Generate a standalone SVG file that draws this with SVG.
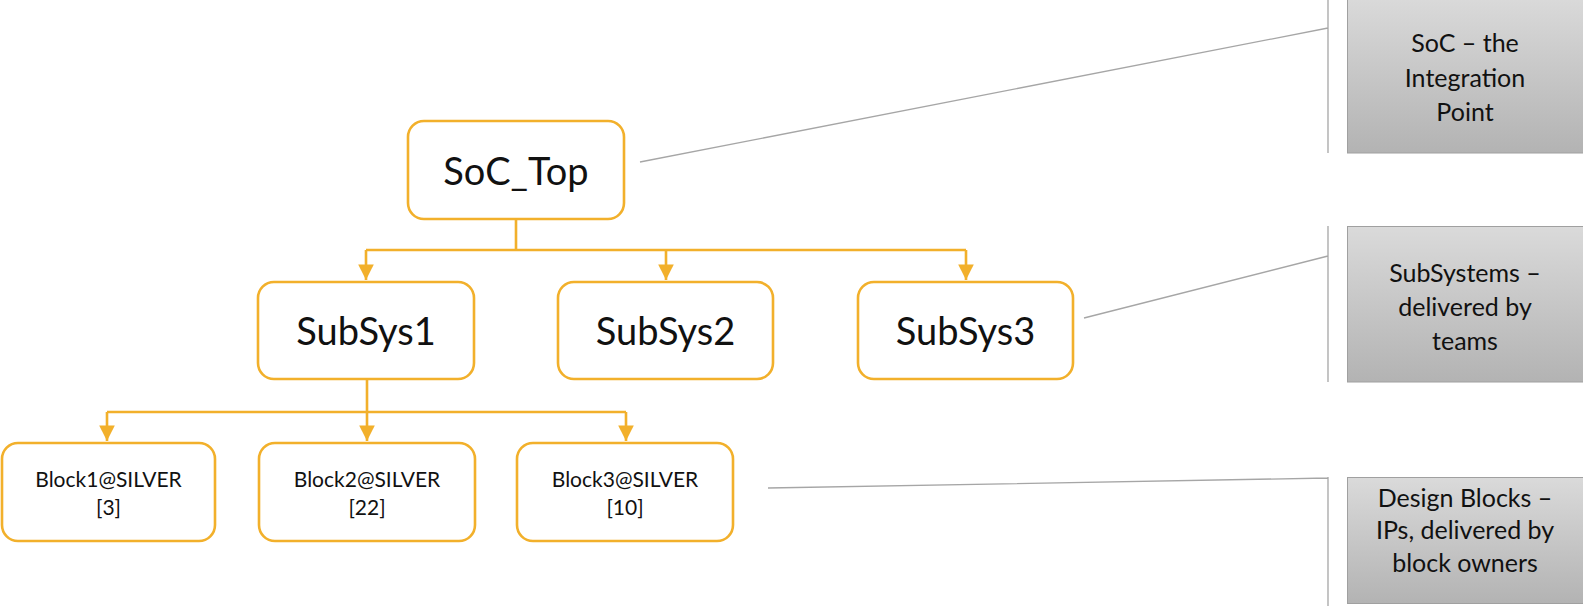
<svg xmlns="http://www.w3.org/2000/svg" width="1583" height="606" viewBox="0 0 1583 606">
  <defs>
    <linearGradient id="gray" x1="0" y1="0" x2="0" y2="1">
      <stop offset="0" stop-color="#dadada"/>
      <stop offset="1" stop-color="#b3b3b3"/>
    </linearGradient>
    <marker id="arr" viewBox="0 0 10 10" refX="10" refY="5" markerWidth="6" markerHeight="6" markerUnits="strokeWidth" orient="auto">
      <path d="M0,0 L10,5 L0,10 Z" fill="#F2B02B"/>
    </marker>
  </defs>
  <style>
    .node { fill: #ffffff; stroke: #F2B02B; stroke-width: 2.6; }
    .conn { fill: none; stroke: #F2B02B; stroke-width: 2.6; }
    .lead { fill: none; stroke: #a6a6a6; stroke-width: 1.3; }
    .cbox { fill: url(#gray); stroke: #a0a0a0; stroke-width: 1; }
    text { font-family: Lato, "Noto Sans", "Liberation Sans", sans-serif; fill: #111111; text-anchor: middle; dominant-baseline: central; }
    .big { font-size: 38px; }
    .small { font-size: 21px; }
    .cap { font-size: 25px; }
  </style>
  <rect width="1583" height="606" fill="#ffffff"/>

  <g id="connectors">
    <path class="conn" d="M516,219 V250 M366,250 H966"/>
    <path class="conn" d="M366,250 V280" marker-end="url(#arr)"/>
    <path class="conn" d="M666,250 V280" marker-end="url(#arr)"/>
    <path class="conn" d="M966,250 V280" marker-end="url(#arr)"/>
    <path class="conn" d="M367,379 V412 M107,412 H626"/>
    <path class="conn" d="M107,412 V441" marker-end="url(#arr)"/>
    <path class="conn" d="M367,412 V441" marker-end="url(#arr)"/>
    <path class="conn" d="M626,412 V441" marker-end="url(#arr)"/>
  </g>

  <g id="SoC_Top">
    <rect class="node" x="408" y="121" width="216" height="98" rx="16"/>
    <text class="big" x="516" y="170">SoC_Top</text>
  </g>
  <g id="SubSys1">
    <rect class="node" x="258" y="282" width="216" height="97" rx="16"/>
    <text class="big" x="366" y="330">SubSys1</text>
  </g>
  <g id="SubSys2">
    <rect class="node" x="558" y="282" width="215" height="97" rx="16"/>
    <text class="big" x="665.5" y="330">SubSys2</text>
  </g>
  <g id="SubSys3">
    <rect class="node" x="858" y="282" width="215" height="97" rx="16"/>
    <text class="big" x="965.5" y="330">SubSys3</text>
  </g>
  <g id="Block1">
    <rect class="node" x="2" y="443" width="213" height="98" rx="16"/>
    <text class="small" x="108.5" y="478">Block1@SILVER</text>
    <text class="small" x="108.5" y="506">[3]</text>
  </g>
  <g id="Block2">
    <rect class="node" x="259" y="443" width="216" height="98" rx="16"/>
    <text class="small" x="367" y="478">Block2@SILVER</text>
    <text class="small" x="367" y="506">[22]</text>
  </g>
  <g id="Block3">
    <rect class="node" x="517" y="443" width="216" height="98" rx="16"/>
    <text class="small" x="625" y="478">Block3@SILVER</text>
    <text class="small" x="625" y="506">[10]</text>
  </g>

  <g id="callout1">
    <path class="lead" d="M640,162 L1328,28 M1328,0 V153"/>
    <rect class="cbox" x="1347.5" y="-3" width="240" height="156"/>
    <text class="cap" x="1465" y="42">SoC – the</text>
    <text class="cap" x="1465" y="77">Integration</text>
    <text class="cap" x="1465" y="111">Point</text>
  </g>
  <g id="callout2">
    <path class="lead" d="M1084,318 L1328,256 M1328,226 V382"/>
    <rect class="cbox" x="1347.5" y="226.5" width="240" height="155.5"/>
    <text class="cap" x="1465" y="272">SubSystems –</text>
    <text class="cap" x="1465" y="306">delivered by</text>
    <text class="cap" x="1465" y="340">teams</text>
  </g>
  <g id="callout3">
    <path class="lead" d="M768,488 L1328,478 M1328,477 V606"/>
    <rect class="cbox" x="1347.5" y="477.5" width="240" height="126"/>
    <text class="cap" x="1465" y="497">Design Blocks –</text>
    <text class="cap" x="1465" y="529">IPs, delivered by</text>
    <text class="cap" x="1465" y="562">block owners</text>
  </g>
</svg>
